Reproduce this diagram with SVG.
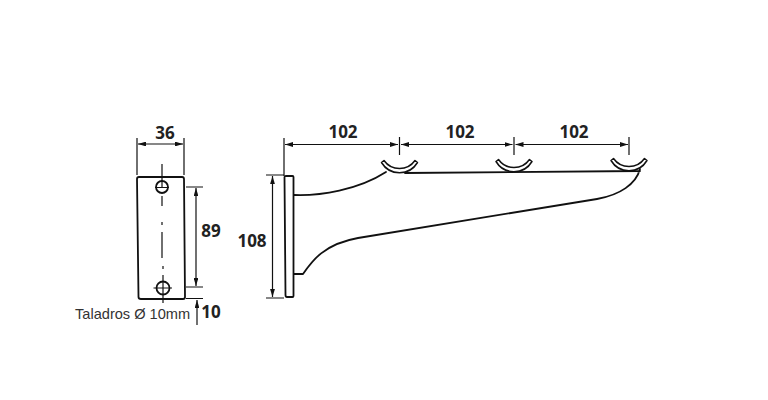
<svg xmlns="http://www.w3.org/2000/svg" width="768" height="400" viewBox="0 0 768 400">
<defs>
<marker id="a" viewBox="0 0 10 6" refX="10" refY="3" markerWidth="8" markerHeight="4.800" markerUnits="userSpaceOnUse" orient="auto-start-reverse"><path d="M0 0L10 3L0 6Z" fill="#111"/></marker>
<path id="hook" d="M-18 -12.500L-15.500 -14.500A19 19 0 0 0 15.500 -14.500L18 -12.500A21 21 0 0 1 -18 -12.500Z"/>
</defs>
<style>
.l{fill:none;stroke:#111;stroke-width:1.200}
.d{fill:none;stroke:#111;stroke-width:1.200;marker-start:url(#a);marker-end:url(#a)}
.o{fill:none;stroke:#111;stroke-width:1.800;stroke-linecap:round;stroke-linejoin:round}
.h{fill:#fff;stroke:#111;stroke-width:1.500;stroke-linejoin:round}
.b{font:bold 17px "Open Sans",sans-serif;fill:#222;text-anchor:middle}
.t{font:14.600px "Liberation Sans",sans-serif;fill:#333}
</style>
<rect width="768" height="400" fill="#fff"/>
<g id="front-plate">
<path class="o" d="M139 177H182Q184 177 184 179L185 297Q185 299 183 299H141Q138.500 299 138.500 297L137 179Q137 177 139 177Z"/>
<circle class="o" cx="162" cy="187" r="6"/>
<circle class="o" cx="163" cy="288" r="6.500"/>
<path class="l" d="M155 187.500H169M162 164V187M153.500 288H172M163 275V303M162 196V206M162 222V225M162 232V258M163 266V269"/>
</g>
<g id="bracket">
<path class="o" d="M286 176H292.500Q293.500 176 293.500 177V296Q293.500 297 292.500 297H287Q285.500 297 285.500 295L284.500 177Q284.500 176 286 176Z"/>
<path class="o" d="M294 195C320 196 358 190 386 172M405 173L640 171M294 274H303C312 261 324 244 358 238L597 199C620 195 636 184 640 169"/>
<use class="h" href="#hook" x="399.500" y="175"/>
<use class="h" href="#hook" x="514" y="174"/>
<use class="h" href="#hook" x="629" y="173"/>
</g>
<g id="connectors">
<path class="l" d="M137 138V175M184 138V175M186 187H203M186 287H203M186 298.500H203M284 138V176M399.500 137V155M514 137V155M629 137V155M266 175H284M266 298H284"/>
<path class="d" d="M138 144H183"/>
<path class="d" d="M196 188V286"/>
<path class="l" marker-start="url(#a)" d="M197 300V325"/>
<path class="d" d="M285 144.500H398"/>
<path class="d" d="M401 144.500H512.500"/>
<path class="d" d="M515.500 144.500H628"/>
<path class="d" d="M272.500 176V297"/>
</g>
<g id="labels">
<text class="b" x="165" y="139">36</text>
<text class="b" x="211" y="237">89</text>
<text class="b" x="211" y="318">10</text>
<text class="b" x="343" y="138">102</text>
<text class="b" x="460" y="138">102</text>
<text class="b" x="574" y="138">102</text>
<text class="b" x="252" y="247">108</text>
<text class="t" x="75" y="319">Taladros Ø 10mm</text>
</g>
</svg>
